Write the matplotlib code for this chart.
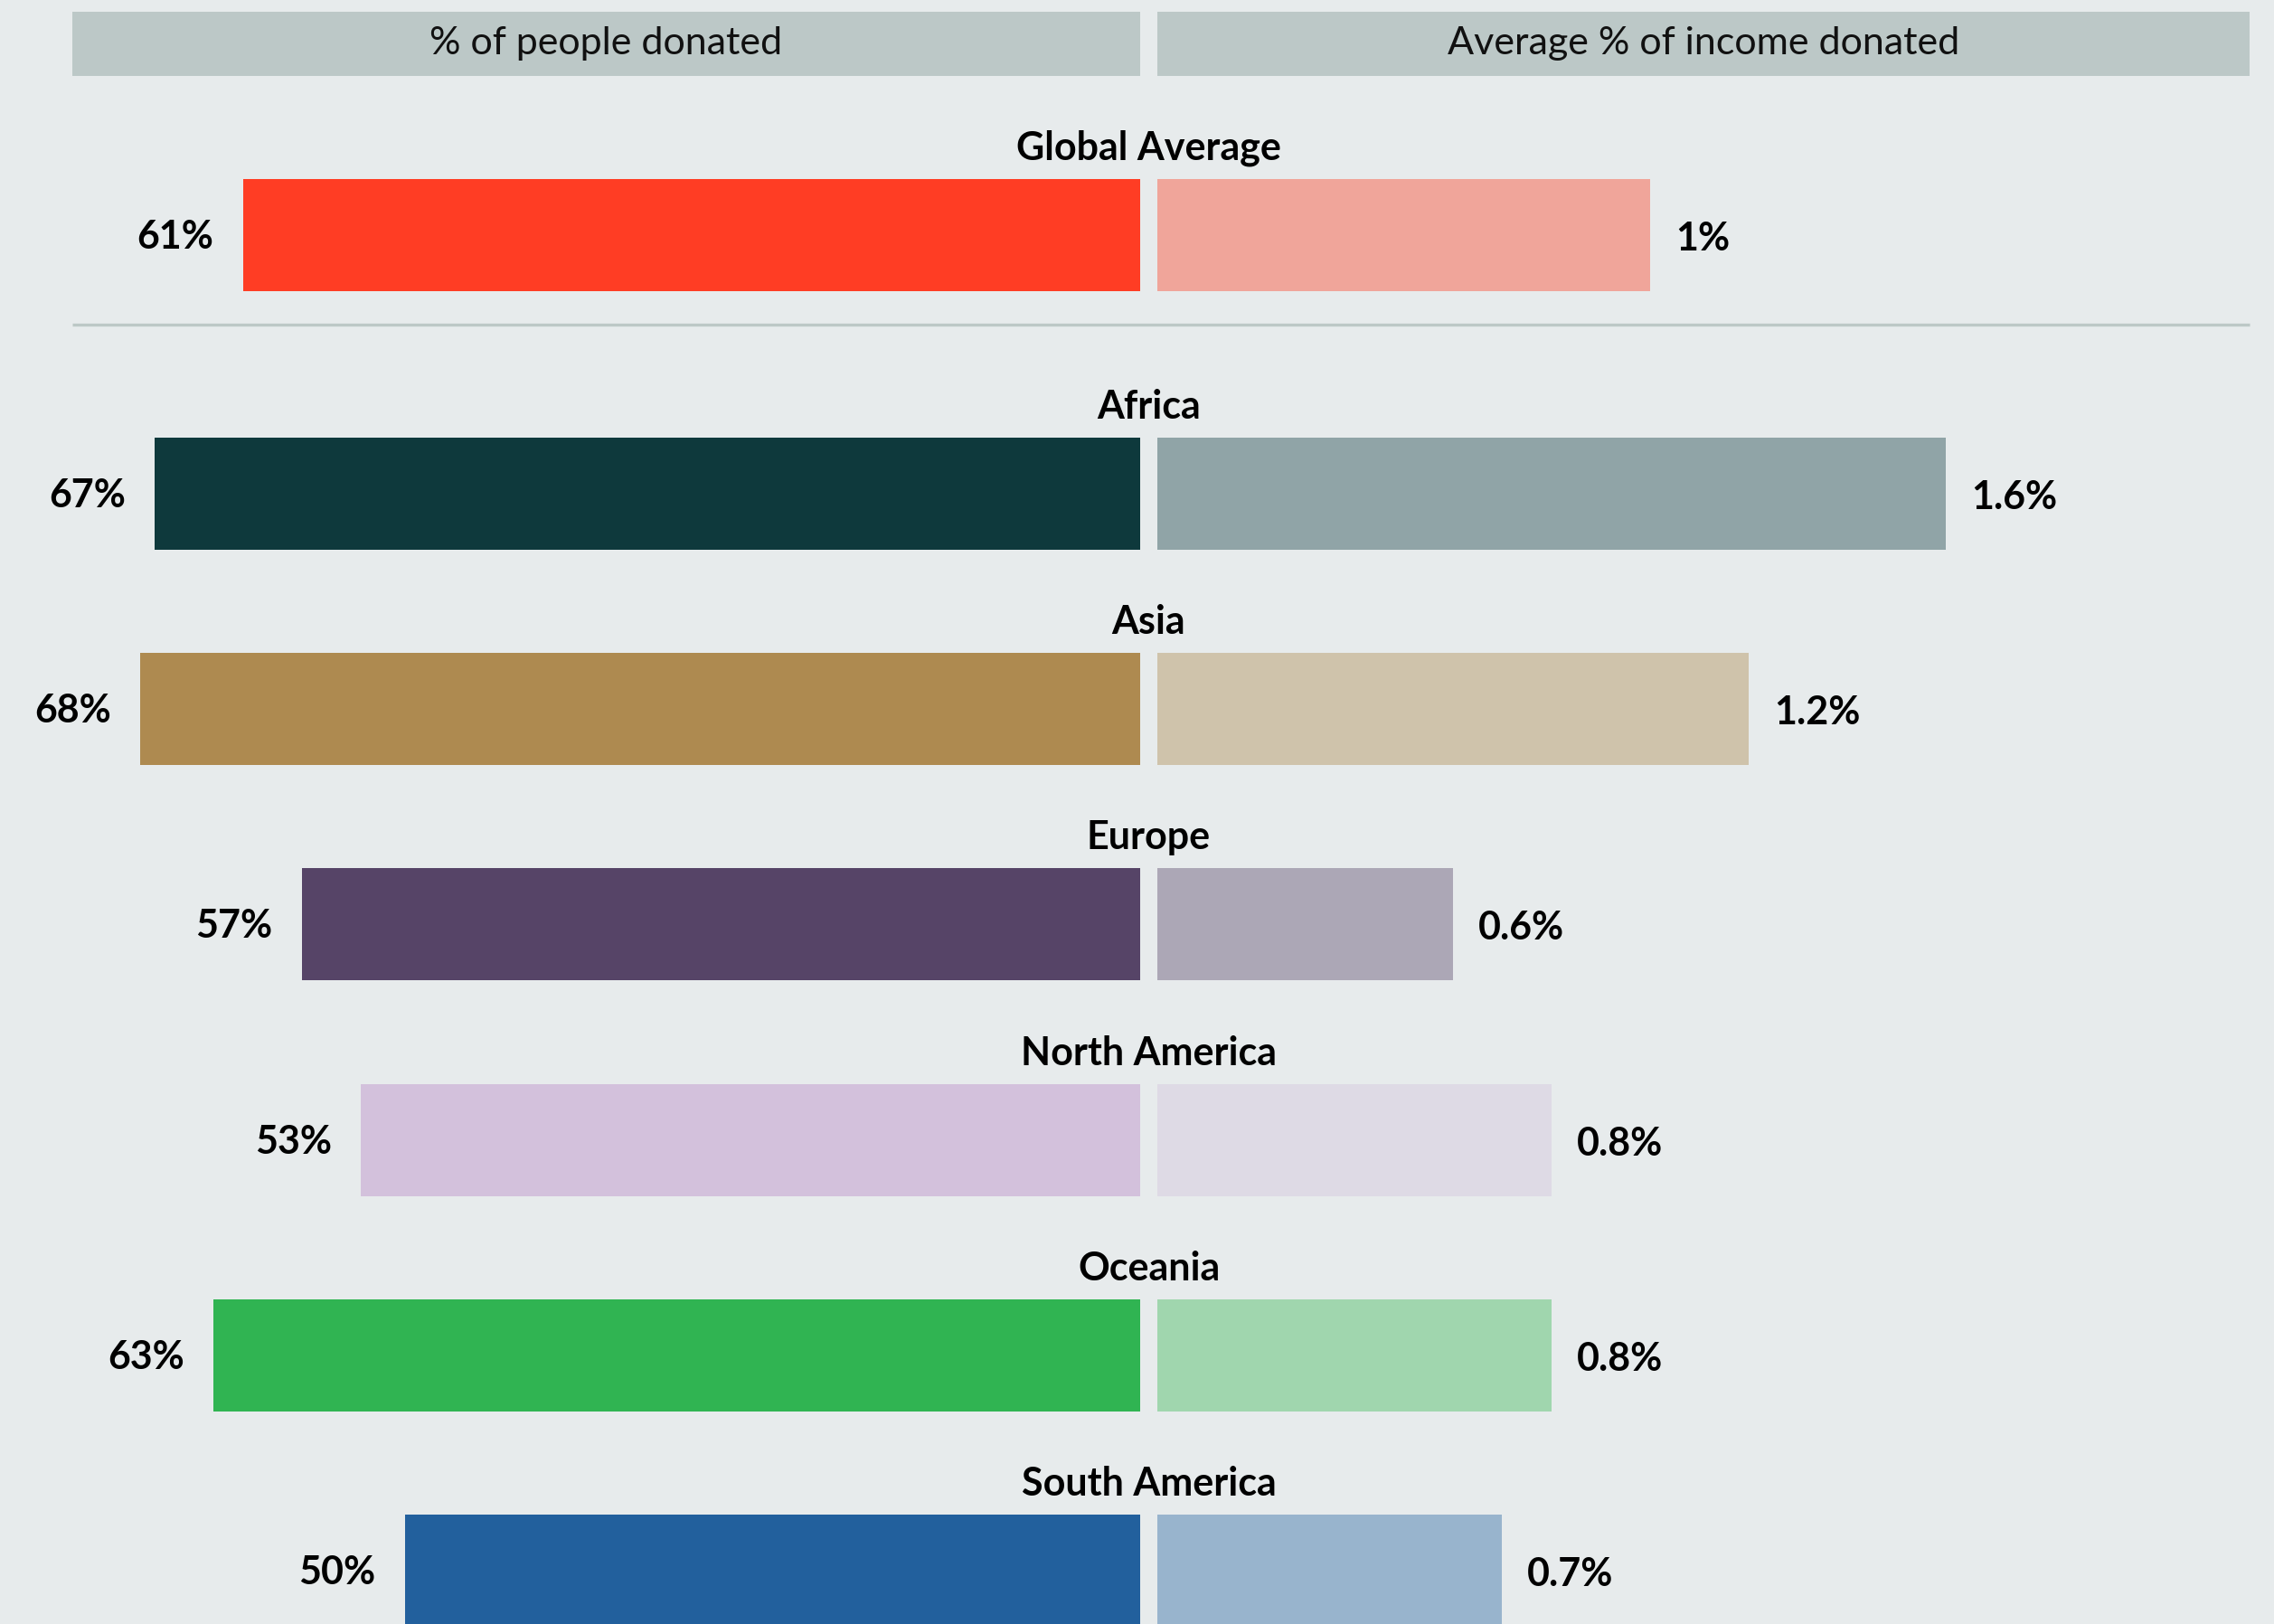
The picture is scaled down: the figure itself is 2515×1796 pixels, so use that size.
import matplotlib
matplotlib.use("Agg")
import matplotlib.pyplot as plt
from matplotlib.patches import Rectangle

# ---- data ----
regions = ["Global Average", "Africa", "Asia", "Europe", "North America", "Oceania", "South America"]
people_donated = [61, 67, 68, 57, 53, 63, 50]          # % of people donated
income_donated = [1.0, 1.6, 1.2, 0.6, 0.8, 0.8, 0.7]   # average % of income donated
people_labels = ["61%", "67%", "68%", "57%", "53%", "63%", "50%"]
income_labels = ["1%", "1.6%", "1.2%", "0.6%", "0.8%", "0.8%", "0.7%"]
header_labels = ["% of people donated", "Average % of income donated"]

dark_colors = ["#ff3d24", "#0e393c", "#ae8a50", "#564467", "#d3c1dc", "#30b452", "#22609d"]
light_colors = ["#f0a59a", "#90a4a7", "#cfc3ab", "#aca7b6", "#dedae5", "#a0d6ae", "#98b4cd"]

# ---- layout (pixels) ----
W, H = 2515, 1796
BG = "#e7ebec"
HEADER_BG = "#bcc8c7"
CENTER_L = 1261          # zero line of left panel
CENTER_R = 1280          # zero line of right panel
PX_PER_PCT_L = 16.27
PX_PER_PCT_R = 545.0
BAR_H = 124
ROW_Y = [260] + [546 + 238.2 * i for i in range(6)]

plt.rcParams["font.family"] = ["Lato", "DejaVu Sans"]

fig = plt.figure(figsize=(W / 100, H / 100), dpi=100, facecolor=BG)

# background / decoration layer in pixel coordinates
bg = fig.add_axes([0, 0, 1, 1])
bg.set_xlim(0, W)
bg.set_ylim(H, 0)
bg.axis("off")
bg.set_facecolor(BG)

bg.add_patch(Rectangle((80, 13), CENTER_L - 80, 71, color=HEADER_BG, lw=0))
bg.add_patch(Rectangle((CENTER_R, 13), 2488 - CENTER_R, 71, color=HEADER_BG, lw=0))
bg.text((80 + CENTER_L) / 2, 60, header_labels[0], ha="center", va="baseline",
        fontsize=31, color="#111111")
bg.text((CENTER_R + 2488) / 2, 60, header_labels[1], ha="center", va="baseline",
        fontsize=31, color="#111111")
bg.plot([80, 2488], [359, 359], color="#bcc8c6", lw=2.4, solid_capstyle="butt")

for name, y in zip(regions, ROW_Y):
    bg.text((CENTER_L + CENTER_R) / 2, y - BAR_H / 2 - 21, name, ha="center",
            va="baseline", fontsize=31, fontweight="bold", color="#000000")

# left panel: share of people who donated (grows leftwards)
axL = fig.add_axes([0, 0, CENTER_L / W, 1])
axL.set_xlim(CENTER_L / PX_PER_PCT_L, 0)
axL.set_ylim(H, 0)
axL.axis("off")
axL.patch.set_alpha(0)
axL.barh(ROW_Y, people_donated, height=BAR_H, color=dark_colors, linewidth=0)
for v, lab, y in zip(people_donated, people_labels, ROW_Y):
    axL.annotate(lab, (v, y + 15), xytext=(-23, 0), textcoords="offset points",
                 ha="right", va="baseline", fontsize=31, fontweight="bold",
                 color="#000000", annotation_clip=False)

# right panel: average share of income donated
axR = fig.add_axes([CENTER_R / W, 0, (W - CENTER_R) / W, 1])
axR.set_xlim(0, (W - CENTER_R) / PX_PER_PCT_R)
axR.set_ylim(H, 0)
axR.axis("off")
axR.patch.set_alpha(0)
axR.barh(ROW_Y, income_donated, height=BAR_H, color=light_colors, linewidth=0)
for v, lab, y in zip(income_donated, income_labels, ROW_Y):
    axR.annotate(lab, (v, y + 17), xytext=(20, 0), textcoords="offset points",
                 ha="left", va="baseline", fontsize=31, fontweight="bold",
                 color="#000000", annotation_clip=False)

fig.savefig("out.png", dpi=100, facecolor=BG)
